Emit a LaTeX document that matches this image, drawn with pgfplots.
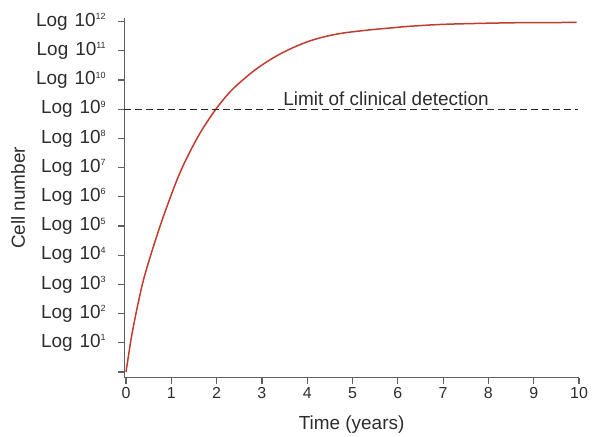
\documentclass[border=0pt]{standalone}
\usepackage{fontspec}
\setmainfont{Liberation Sans}
\usepackage{pgfplots}
\pgfplotsset{compat=1.18}
\definecolor{curvered}{RGB}{192,60,45}
\definecolor{axisgray}{RGB}{95,95,95}
\definecolor{textgray}{RGB}{45,45,45}
\newcommand\sups[1]{\raisebox{6.5bp}{\fontsize{9}{9}\selectfont #1}}
\begin{document}
\begin{tikzpicture}
\useasboundingbox (-126bp,-65bp) rectangle (466bp,372bp);
\begin{axis}[
  anchor=origin, at={(0,0)},
  x=45.3bp, y=29.2bp,
  xmin=-0.04, xmax=10, ymin=-0.2, ymax=12.12,
  clip=false,
  axis lines=left,
  axis line style={-, axisgray, line width=1.3bp},
  tick align=outside,
  major tick length=6bp,
  tick style={axisgray, line width=1.2bp},
  xtick={0,...,10},
  ytick={0,...,12},
  yticklabel={\ifnum\ticknum=0\relax\else Log\hspace{7bp}10\sups{\ticknum}\fi},
  xticklabel style={font=\fontsize{16}{16}\selectfont, text=textgray},
  yticklabel style={font=\fontsize{19}{19}\selectfont, text=textgray, xshift=-9bp},
  /pgf/number format/assume math mode=true,
  xlabel={Time (years)},
  ylabel={Cell number},
  xlabel style={font=\fontsize{19}{19}\selectfont, text=textgray, at={(axis description cs:0.5,-0.13)}, anchor=center},
  ylabel style={font=\fontsize{19}{19}\selectfont, text=textgray, at={(axis description cs:-0.233,0.5)}, anchor=center},
]
\addplot[curvered, line width=1.5bp, smooth] coordinates {
(0,0) (0.051,0.52) (0.126,1.25) (0.236,2.12) (0.38,3.12) (0.581,4.18)
(0.824,5.32) (1.118,6.55) (1.34,7.32) (1.63,8.17) (1.96,8.95) (2.30,9.60)
(2.66,10.11) (2.96,10.47) (3.33,10.83) (3.69,11.11) (4.06,11.34) (4.43,11.50)
(4.80,11.61) (5.17,11.68) (5.53,11.74) (5.90,11.79) (6.27,11.84) (7.08,11.91)
(8.55,11.96) (9.95,11.97)
};
\addplot[black!85, line width=1.2bp, dash pattern=on 7bp off 4bp] coordinates {(-0.04,9) (9.97,9)};
\node[font=\fontsize{19}{19}\selectfont, text=textgray, anchor=base] at (axis cs:5.74,9.14) {Limit of clinical detection};
\end{axis}
\end{tikzpicture}
\end{document}
